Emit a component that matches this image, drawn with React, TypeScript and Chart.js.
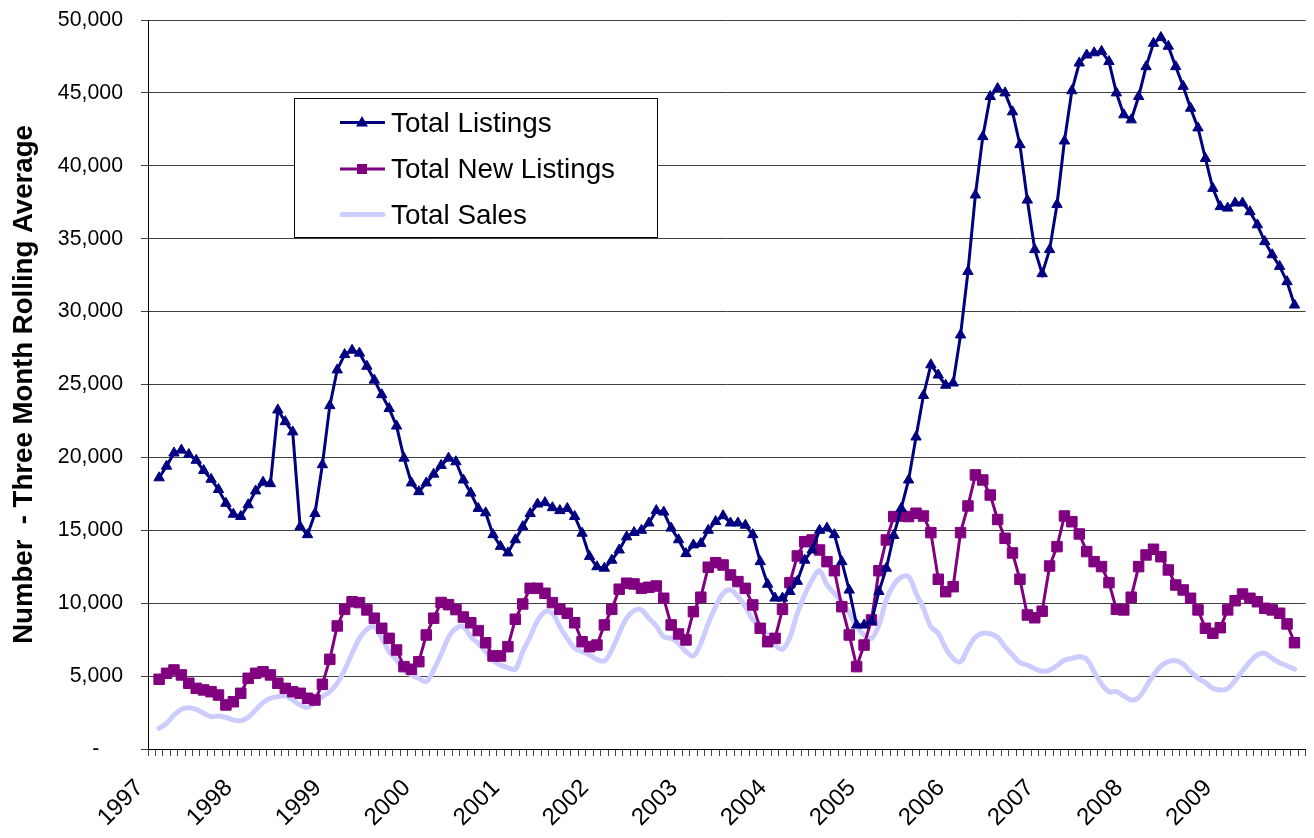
import React, { useEffect, useRef } from 'react';
import { Chart, registerables } from 'chart.js';

Chart.register(...registerables);

const FONT = "'Liberation Sans', Arial, Helvetica, sans-serif";

const years = ['1997', '1998', '1999', '2000', '2001', '2002', '2003', '2004', '2005', '2006', '2007', '2008', '2009'];
const months = ['Jan', 'Feb', 'Mar', 'Apr', 'May', 'Jun', 'Jul', 'Aug', 'Sep', 'Oct', 'Nov', 'Dec'];

const seriesNames = ['Total Listings', 'Total New Listings', 'Total Sales'];

// Three month rolling averages, monthly Jan 1997 .. Dec 2009 (null = no value)
const totalListings = [
  null, 18600, 19400, 20300, 20500, 20200, 19800, 19100, 18500, 17800, 16850, 16100,
  15950, 16750, 17700, 18300, 18200, 23250, 22450, 21750, 15250, 14700, 16150, 19500,
  23550, 26000, 27050, 27350, 27150, 26250, 25300, 24300, 23350, 22150, 19950, 18250,
  17650, 18250, 18850, 19450, 19950, 19700, 18450, 17550, 16500, 16200, 14700, 13900,
  13450, 14350, 15250, 16150, 16800, 16900, 16550, 16350, 16500, 15950, 14800, 13200,
  12500, 12400, 12950, 13650, 14550, 14850, 15000, 15500, 16350, 16250, 15150, 14350,
  13400, 14000, 14100, 15000, 15600, 16000, 15500, 15500, 15350, 14700, 12850, 11300,
  10350, 10350, 10800, 11500, 12950, 13650, 15000, 15150, 14700, 12850, 10900, 8500,
  8500, 8750, 10800, 12400, 14650, 16500, 18450, 21400, 24250, 26350, 25650, 24950,
  25100, 28400, 32750, 38000, 42000, 44750, 45300, 45000, 43700, 41450, 37650, 34250,
  32600, 34250, 37350, 41700, 45150, 47050, 47600, 47750, 47850, 47150, 45000, 43500,
  43150, 44750, 46800, 48400, 48800, 48200, 46800, 45450, 43950, 42600, 40500, 38450,
  37200, 37100, 37450, 37450, 36850, 35950, 34800, 33900, 33100, 32050, 30450, null,
];

const totalNewListings = [
  null, 4780, 5190, 5420, 5080, 4510, 4160, 4050, 3930, 3700, 3020, 3240,
  3820, 4850, 5190, 5300, 5080, 4510, 4160, 3930, 3820, 3480, 3360, 4440,
  6150, 8440, 9580, 10100, 10040, 9540, 8970, 8280, 7590, 6790, 5650, 5470,
  5990, 7820, 8970, 10050, 9900, 9560, 9050, 8660, 8120, 7290, 6380, 6380,
  7020, 8900, 9950, 11020, 11020, 10680, 10040, 9580, 9310, 8660, 7360, 7020,
  7130, 8510, 9580, 10960, 11370, 11320, 11020, 11090, 11180, 10340, 8510, 7890,
  7480, 9420, 10410, 12470, 12780, 12620, 11940, 11480, 11020, 9880, 8280, 7360,
  7590, 9580, 11410, 13240, 14220, 14340, 13650, 12850, 12230, 9760, 7820, 5650,
  7130, 8850, 12230, 14340, 15940, 15980, 15940, 16170, 15980, 14840, 11640, 10790,
  11130, 14840, 16670, 18800, 18450, 17420, 15740, 14450, 13450, 11640, 9190, 9000,
  9450, 12550, 13880, 15980, 15590, 14750, 13540, 12850, 12510, 11410, 9580, 9540,
  10410, 12510, 13310, 13700, 13190, 12280, 11250, 10910, 10340, 9540, 8280, 7940,
  8320, 9540, 10170, 10630, 10340, 10100, 9650, 9540, 9310, 8580, 7290, null,
];

const totalSales = [
  null, 1420, 1760, 2330, 2720, 2830, 2720, 2450, 2220, 2260, 2170, 1990,
  1940, 2170, 2680, 3180, 3480, 3590, 3640, 3360, 3020, 2860, 3180, 3590,
  3930, 4510, 5420, 6570, 7590, 8210, 8390, 7590, 6680, 6100, 5420, 5080,
  4850, 4620, 5420, 6500, 7650, 8280, 8400, 7700, 7250, 6680, 6100, 5760,
  5580, 5470, 6680, 7700, 8800, 9420, 9310, 8390, 7590, 6910, 6680, 6450,
  6150, 6040, 6790, 7940, 8970, 9490, 9540, 8970, 8440, 7700, 7590, 7250,
  6680, 6380, 7250, 8620, 9760, 10680, 10910, 10450, 9760, 8870, 8450, 7820,
  7130, 6840, 7660, 9310, 10570, 11590, 12230, 11250, 10680, 10100, 9350, 8390,
  7820, 7590, 8510, 10220, 11250, 11780, 11820, 10680, 9650, 8390, 7940, 6910,
  6220, 5990, 6910, 7660, 7940, 7890, 7650, 7000, 6450, 5920, 5760, 5500,
  5330, 5400, 5720, 6080, 6220, 6330, 6150, 5300, 4460, 3930, 3930, 3640,
  3360, 3520, 4270, 5080, 5690, 5990, 6060, 5830, 5300, 4850, 4550, 4160,
  4050, 4140, 4690, 5370, 5990, 6450, 6570, 6220, 5920, 5710, 5470, null,
];

const yTickStep = 5000;
const yMax = 50000;

const categories = years.flatMap((y) => months.map((m) => `${m} ${y}`));

const NAVY = '#000080';
const PURPLE = '#800080';
const LAVENDER = '#CCCCFF';

const legendPlugin = {
  id: 'boxLegend',
  afterDatasetsDraw(chart: any) {
    const ctx = chart.ctx;
    ctx.save();
    const bx = 294.5, by = 98.5, bw = 363, bh = 139;
    ctx.fillStyle = '#ffffff';
    ctx.fillRect(bx, by, bw, bh);
    ctx.strokeStyle = '#000000';
    ctx.lineWidth = 1;
    ctx.strokeRect(bx, by, bw, bh);

    const rows = [
      { y: 122.5, base: 131.5, color: NAVY, width: 3, marker: 'triangle' },
      { y: 169, base: 178, color: PURPLE, width: 3, marker: 'rect' },
      { y: 214.5, base: 223.5, color: LAVENDER, width: 5, marker: 'none' },
    ];
    rows.forEach((r, i) => {
      ctx.beginPath();
      ctx.strokeStyle = r.color;
      ctx.lineWidth = r.width;
      ctx.lineCap = r.marker === 'none' ? 'round' : 'butt';
      ctx.moveTo(r.marker === 'none' ? 342 : 340, r.y);
      ctx.lineTo(r.marker === 'none' ? 383 : 385, r.y);
      ctx.stroke();
      ctx.fillStyle = r.color;
      if (r.marker === 'triangle') {
        ctx.beginPath();
        ctx.moveTo(362, r.y - 6.5);
        ctx.lineTo(368, r.y + 4);
        ctx.lineTo(356, r.y + 4);
        ctx.closePath();
        ctx.fill();
      } else if (r.marker === 'rect') {
        ctx.fillRect(357, r.y - 5, 10, 10);
      }
      ctx.fillStyle = '#000000';
      ctx.font = `27.8px ${FONT}`;
      ctx.textAlign = 'left';
      ctx.textBaseline = 'alphabetic';
      ctx.fillText(seriesNames[i], 391, r.base);
    });
    ctx.restore();
  },
};

export default function App() {
  const canvasRef = useRef<HTMLCanvasElement | null>(null);

  useEffect(() => {
    const canvas = canvasRef.current;
    if (!canvas) return;
    const chart = new Chart(canvas, {
      type: 'line',
      data: {
        labels: categories,
        datasets: [
          {
            label: seriesNames[0],
            data: totalListings,
            borderColor: NAVY,
            backgroundColor: NAVY,
            borderWidth: 3,
            pointStyle: 'triangle',
            pointRadius: 6,
            pointBorderWidth: 1,
            pointBackgroundColor: NAVY,
            pointBorderColor: NAVY,
            tension: 0,
          },
          {
            label: seriesNames[1],
            data: totalNewListings,
            borderColor: PURPLE,
            backgroundColor: PURPLE,
            borderWidth: 3,
            pointStyle: 'rect',
            pointRadius: 7.4,
            pointBorderWidth: 1,
            pointBackgroundColor: PURPLE,
            pointBorderColor: PURPLE,
            tension: 0,
          },
          {
            label: seriesNames[2],
            data: totalSales,
            borderColor: LAVENDER,
            backgroundColor: LAVENDER,
            borderWidth: 5,
            borderCapStyle: 'round',
            borderJoinStyle: 'round',
            pointRadius: 0,
            tension: 0.35,
          },
        ],
      },
      options: {
        responsive: false,
        animation: false,
        events: [],
        layout: { padding: { left: 0, right: 4, top: 20, bottom: 0 } },
        plugins: {
          legend: { display: false },
          tooltip: { enabled: false },
          title: { display: false },
        },
        scales: {
          x: {
            type: 'category',
            offset: true,
            grid: {
              display: true,
              drawOnChartArea: false,
              drawTicks: true,
              tickLength: 7,
              color: '#444444',
              offset: true,
            },
            border: { display: true, color: '#000000', width: 1 },
            ticks: {
              autoSkip: false,
              minRotation: 45,
              maxRotation: 45,
              color: '#000000',
              padding: 18,
              labelOffset: -12,
              font: { family: FONT, size: 24 },
              callback: (_v: any, index: number) => (index % 12 === 0 ? years[index / 12] : ''),
            },
            afterFit: (s: any) => {
              s.height = 89;
              s.paddingLeft = 0;
              s.paddingRight = 0;
            },
          },
          y: {
            min: 0,
            max: yMax,
            grid: { color: '#404040', lineWidth: 1, drawTicks: true, tickLength: 7 },
            border: { display: true, color: '#000000', width: 1 },
            ticks: {
              stepSize: yTickStep,
              color: '#000000',
              padding: 18,
              font: { family: FONT, size: 21.3 },
              callback: (v: any) => (Number(v) === 0 ? '-    ' : Number(v).toLocaleString('en-US')),
            },
            title: {
              display: true,
              text: 'Number  - Three Month Rolling Average',
              color: '#000000',
              font: { family: FONT, size: 27.6, weight: 'bold' },
              padding: { top: 8, bottom: 0 },
            },
            afterFit: (s: any) => {
              s.width = 148;
              s.paddingTop = 0;
              s.paddingBottom = 0;
            },
          },
        },
      },
      plugins: [legendPlugin],
    } as any);
    return () => chart.destroy();
  }, []);

  return (
    <div style={{ position: 'fixed', left: 0, top: 0, width: 1314, height: 838, background: '#ffffff' }}>
      <canvas ref={canvasRef} width={1314} height={838} style={{ display: 'block' }} />
    </div>
  );
}
